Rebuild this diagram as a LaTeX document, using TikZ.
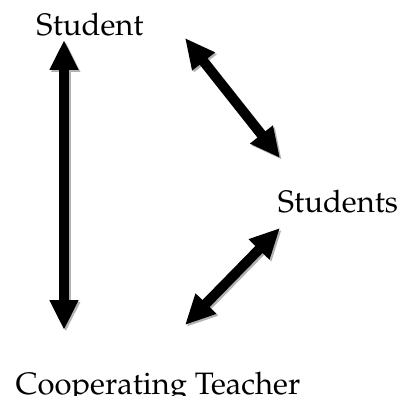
\documentclass[tikz,border=0pt]{standalone}
\usepackage[T1]{fontenc}
\usepackage{mathpazo}
\usetikzlibrary{arrows.meta}
\tikzset{
    every node/.style={font=\fontsize{31}{36}\selectfont, inner sep=0pt},
    link/.style={line width=10pt, {Triangle[width=27pt,length=30pt]}-{Triangle[width=27pt,length=30pt]}},
    link shadow/.style={link, draw=black!30, transform canvas={shift={(1.8pt,-1.8pt)}}}
}

\begin{document}
\begin{tikzpicture}[
            x = 1pt, y = -1pt % pixel-like units, y going down
        ]

        \useasboundingbox (0,0) rectangle (406,406);
        \begin{scope}
        \clip (0,0) rectangle (406,395);

        % labels
        \node[anchor=base] (student) at (90,36) {Student};
        \node[anchor=base] (students) at (338,212) {Students};
        \node[anchor=base] (teacher) at (158,394) {Cooperating Teacher};
        \end{scope}

        % arrow ends
        \coordinate (s top) at (64,40);
        \coordinate (s bot) at (64,330);
        \coordinate (a1) at (185,38);
        \coordinate (b1) at (280,158);
        \coordinate (a2) at (280,228);
        \coordinate (b2) at (185,325);

        % shadows
        \draw[link shadow] (s top) -- (s bot);
        \draw[link shadow] (a1) -- (b1);
        \draw[link shadow] (a2) -- (b2);

        \draw[link] (s top) -- (s bot);
        \draw[link] (a1) -- (b1);
        \draw[link] (a2) -- (b2);

  \end{tikzpicture}
\end{document}
